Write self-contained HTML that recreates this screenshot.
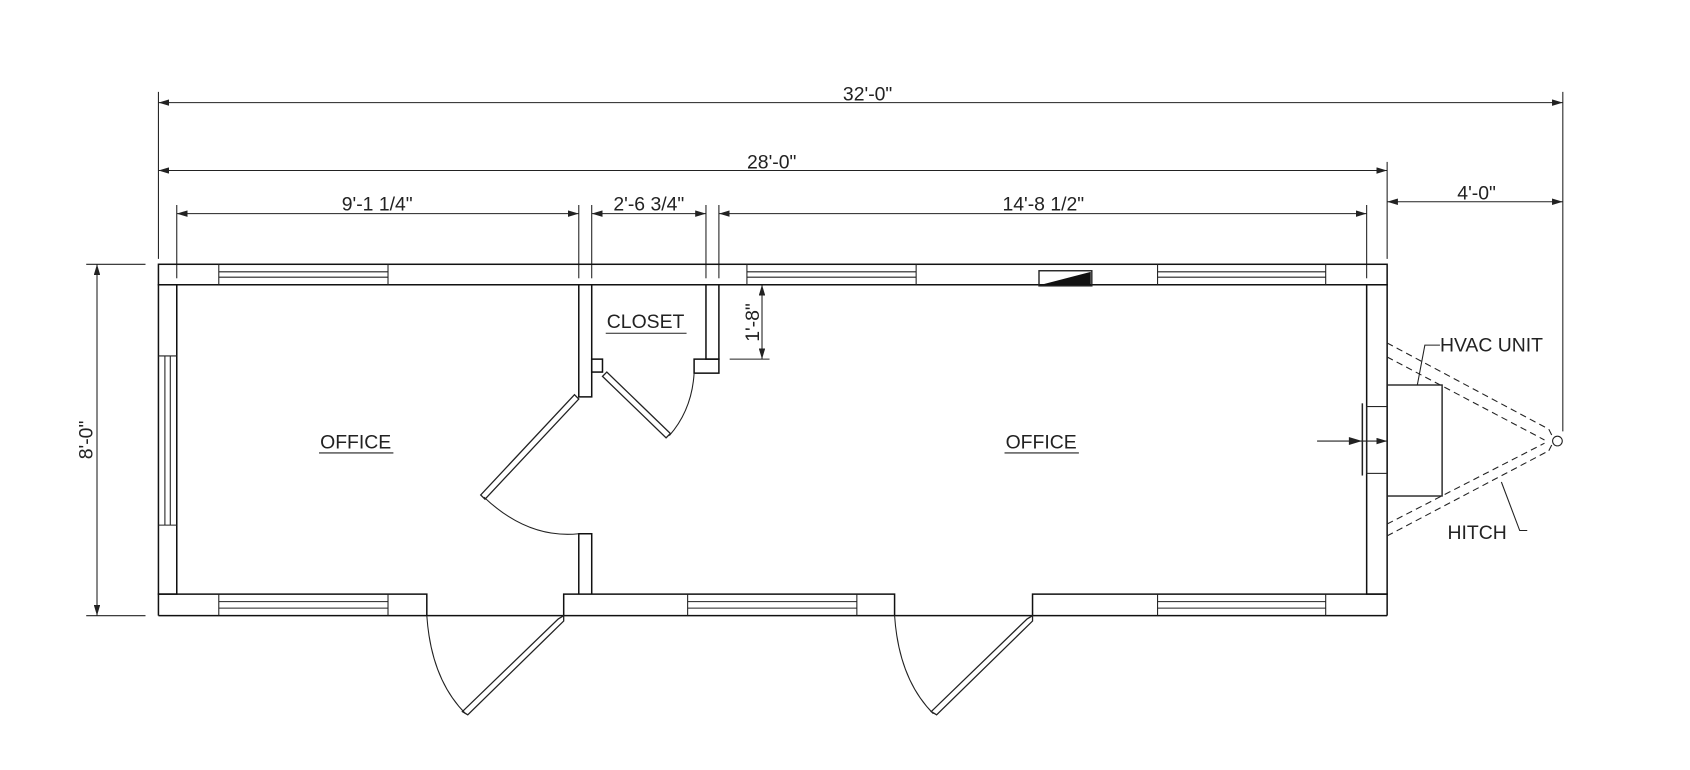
<!DOCTYPE html>
<html><head><meta charset="utf-8"><style>
html,body{margin:0;padding:0;background:#fff;}
svg{display:block;}
text{font-family:"Liberation Sans",sans-serif;fill:#222;}
</style></head><body>
<svg width="1690" height="770" viewBox="0 0 1568 714" xmlns="http://www.w3.org/2000/svg">
<defs>
<marker id="a" viewBox="0 0 10 6" refX="10" refY="3" markerWidth="10" markerHeight="6" orient="auto-start-reverse" markerUnits="userSpaceOnUse"><path d="M0,0 L10,3 L0,6 z" fill="#222"/></marker>
</defs>
<g stroke="#222" stroke-width="1" fill="none">
<line x1="147" y1="85" x2="147" y2="240"/>
<line x1="1450" y1="85" x2="1450" y2="400"/>
<line x1="1287" y1="150" x2="1287" y2="240"/>
<line x1="164" y1="190" x2="164" y2="258"/>
<line x1="537" y1="190" x2="537" y2="258"/>
<line x1="549" y1="190" x2="549" y2="258"/>
<line x1="655" y1="190" x2="655" y2="258"/>
<line x1="667" y1="190" x2="667" y2="258"/>
<line x1="1268" y1="190" x2="1268" y2="258"/>
<line x1="147" y1="95" x2="1450" y2="95" marker-start="url(#a)" marker-end="url(#a)"/>
<line x1="147" y1="158" x2="1287" y2="158" marker-start="url(#a)" marker-end="url(#a)"/>
<line x1="164" y1="198" x2="537" y2="198" marker-start="url(#a)" marker-end="url(#a)"/>
<line x1="549" y1="198" x2="655" y2="198" marker-start="url(#a)" marker-end="url(#a)"/>
<line x1="667" y1="198" x2="1268" y2="198" marker-start="url(#a)" marker-end="url(#a)"/>
<line x1="1287" y1="187" x2="1450" y2="187" marker-start="url(#a)" marker-end="url(#a)"/>
<line x1="80" y1="245" x2="135" y2="245"/>
<line x1="80" y1="571" x2="135" y2="571"/>
<line x1="90" y1="245" x2="90" y2="571" marker-start="url(#a)" marker-end="url(#a)"/>
<line x1="707" y1="264" x2="707" y2="333" marker-start="url(#a)" marker-end="url(#a)"/>
<line x1="677" y1="333" x2="714" y2="333"/>
</g>
<g stroke="#111" stroke-width="1.4" fill="none">
<rect x="147" y="245" width="1140" height="19"/>
<rect x="147" y="264" width="17" height="287"/>
<rect x="1268" y="264" width="19" height="287"/>
<line x1="147" y1="571" x2="1287" y2="571"/>
<polyline points="147,571 147,551 396,551 396,571"/>
<polyline points="523,571 523,551 830,551 830,571"/>
<polyline points="958,571 958,551 1287,551 1287,571"/>
<line x1="164" y1="551" x2="164" y2="264"/>
<polyline points="537,264 537,368 549,368 549,264"/>
<polyline points="537,551 537,495 549,495 549,551"/>
<polyline points="655,264 655,333 667,333 667,264"/>
<rect x="644" y="333" width="23" height="13"/>
<rect x="549" y="333" width="10" height="12"/>
</g>
<g stroke="#222" stroke-width="1" fill="none">
<g><line x1="203" y1="245" x2="203" y2="264"/><line x1="360" y1="245" x2="360" y2="264"/><line x1="203" y1="252" x2="360" y2="252"/><line x1="203" y1="257" x2="360" y2="257"/></g>
<g><line x1="693" y1="245" x2="693" y2="264"/><line x1="850" y1="245" x2="850" y2="264"/><line x1="693" y1="252" x2="850" y2="252"/><line x1="693" y1="257" x2="850" y2="257"/></g>
<g><line x1="1074" y1="245" x2="1074" y2="264"/><line x1="1230" y1="245" x2="1230" y2="264"/><line x1="1074" y1="252" x2="1230" y2="252"/><line x1="1074" y1="257" x2="1230" y2="257"/></g>
<g><line x1="203" y1="551" x2="203" y2="571"/><line x1="360" y1="551" x2="360" y2="571"/><line x1="203" y1="558" x2="360" y2="558"/><line x1="203" y1="564" x2="360" y2="564"/></g>
<g><line x1="638" y1="551" x2="638" y2="571"/><line x1="795" y1="551" x2="795" y2="571"/><line x1="638" y1="558" x2="795" y2="558"/><line x1="638" y1="564" x2="795" y2="564"/></g>
<g><line x1="1074" y1="551" x2="1074" y2="571"/><line x1="1230" y1="551" x2="1230" y2="571"/><line x1="1074" y1="558" x2="1230" y2="558"/><line x1="1074" y1="564" x2="1230" y2="564"/></g>
<g><line x1="147" y1="330" x2="164" y2="330"/><line x1="147" y1="487" x2="164" y2="487"/><line x1="153" y1="330" x2="153" y2="487"/><line x1="158" y1="330" x2="158" y2="487"/></g>
<polygon points="523,571 518,574 429,660 434,663 523,576" stroke-width="1.2"/>
<path d="M396,571 Q400,630 432,662"/>
<polygon points="958,571 953,574 864,660 869,663 958,576" stroke-width="1.2"/>
<path d="M830,571 Q834,630 866,662"/>
<polygon points="537,370 533,366 446,459 450,463" stroke-width="1.2"/>
<path d="M449,461 Q490,500 537,495"/>
<polygon points="563,345 559,349 618,406 622,402" stroke-width="1.2"/>
<path d="M621,404 Q642,380 644,346"/>
<rect x="964" y="251" width="49" height="14" stroke-width="1.3"/>
<rect x="1287" y="357" width="51" height="103" stroke-width="1.3"/>
<rect x="1268" y="377" width="19" height="62"/>
<line x1="1264" y1="374" x2="1264" y2="441" stroke-width="1.4"/>
<line x1="1222" y1="409" x2="1287" y2="409" marker-end="url(#a)"/>
<polygon points="1252,406 1262,409 1252,412" fill="#222"/>
<g stroke-dasharray="6,4">
<line x1="1287" y1="318" x2="1437" y2="398"/>
<line x1="1287" y1="331" x2="1433" y2="408"/>
<line x1="1287" y1="486" x2="1433" y2="411"/>
<line x1="1287" y1="497" x2="1437" y2="418"/>
<line x1="1437" y1="398" x2="1440" y2="404"/>
<line x1="1437" y1="418" x2="1440" y2="412"/>
</g>
<circle cx="1445" cy="409" r="4.5"/>
<polyline points="1315,357 1322,320 1336,320"/>
<polyline points="1393,447 1410,492 1417,492"/>
<line x1="296" y1="420" x2="365" y2="420"/>
<line x1="932" y1="420" x2="1001" y2="420"/>
<line x1="562" y1="309" x2="637" y2="309"/>
</g>
<polygon points="966,264 1012,252 1012,264" fill="#111"/>
<g font-size="18">
<text x="805" y="93" text-anchor="middle">32'-0"</text>
<text x="716" y="156" text-anchor="middle">28'-0"</text>
<text x="350" y="195" text-anchor="middle">9'-1 1/4"</text>
<text x="602" y="195" text-anchor="middle">2'-6 3/4"</text>
<text x="968" y="195" text-anchor="middle">14'-8 1/2"</text>
<text x="1370" y="185" text-anchor="middle">4'-0"</text>
<text transform="translate(86,408) rotate(-90)" text-anchor="middle">8'-0"</text>
<text transform="translate(704,299) rotate(-90)" text-anchor="middle">1'-8"</text>
<text x="1336" y="326">HVAC UNIT</text>
<text x="1343" y="500">HITCH</text>
<text x="330" y="416" text-anchor="middle">OFFICE</text>
<text x="966" y="416" text-anchor="middle">OFFICE</text>
<text x="599" y="304" text-anchor="middle">CLOSET</text>
</g>
</svg>
</body></html>
